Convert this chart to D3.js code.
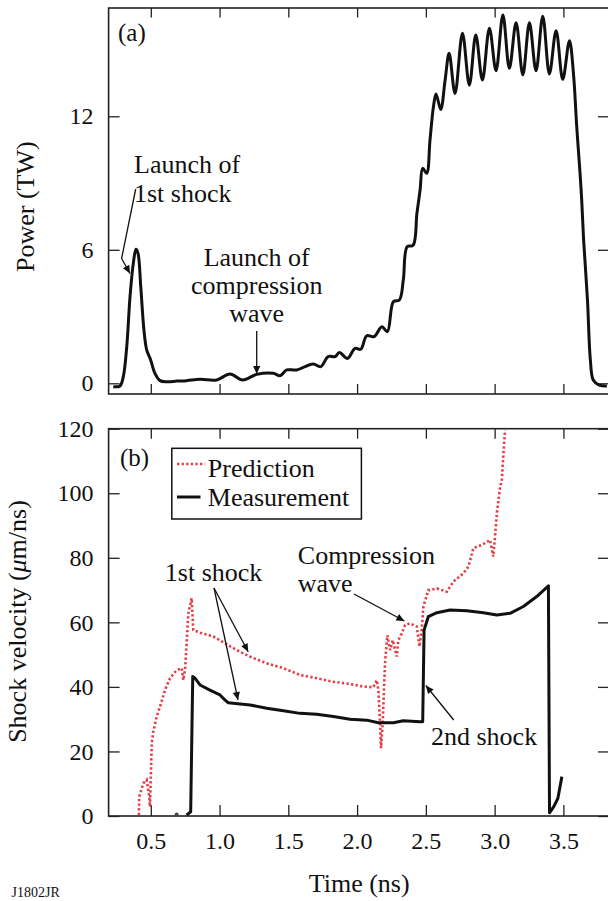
<!DOCTYPE html>
<html>
<head>
<meta charset="utf-8">
<script src="https://cdn.jsdelivr.net/npm/d3@7"></script>
<style>
  html, body { margin: 0; padding: 0; background: #fff; }
  svg { display: block; }
  text { font-family: "Liberation Serif", "Times New Roman", serif; fill: #111; }
</style>
</head>
<body>
<svg id="chart" width="608" height="901"></svg>
<script>
// ---------------- DATA ----------------
const xTicks = [0.5, 1.0, 1.5, 2.0, 2.5, 3.0, 3.5];
const powerTicks = [0, 6, 12];
const velocityTicks = [0, 20, 40, 60, 80, 100, 120];

// Panel (a): laser power (TW) vs time (ns)
const powerTime = [0.227,0.276,0.300,0.325,0.349,0.373,0.392,0.407,0.427,0.450,0.470,0.499,0.530,0.567,0.616,0.690,0.760,0.858,0.979,1.076,1.168,1.270,1.390,1.440,1.488,1.560,1.680,1.735,1.790,1.840,1.871,1.930,1.985,2.027,2.070,2.123,2.180,2.220,2.264,2.307,2.336,2.364,2.407,2.435,2.458,2.477,2.506,2.530,2.555,2.574,2.608,2.640,2.669,2.712,2.766,2.816,2.863,2.911,2.962,3.010,3.060,3.107,3.156,3.205,3.253,3.301,3.350,3.398,3.447,3.495,3.544,3.573,3.597,3.621,3.633,3.647,3.675,3.696,3.717,3.760,3.816];
const powerValue = [-0.15,-0.12,0.30,1.64,3.90,5.40,6.02,5.84,4.34,2.40,1.50,1.05,0.45,0.12,0.07,0.10,0.12,0.18,0.15,0.42,0.15,0.40,0.45,0.34,0.60,0.60,0.87,0.75,1.20,1.20,1.38,1.12,1.57,1.53,2.14,2.10,2.54,2.32,3.67,3.74,4.64,6.14,6.20,7.64,8.69,9.66,9.44,10.93,12.43,13.00,12.31,13.63,14.83,13.03,15.73,13.40,15.65,13.63,15.96,14.05,16.55,14.16,16.20,13.86,16.20,14.05,16.50,13.90,15.85,13.66,15.40,13.93,11.53,9.44,8.24,6.44,3.74,1.05,0.15,-0.08,-0.12];

// Panel (b): shock velocity (um/ns)
const predictionTime = [0.413,0.416,0.445,0.470,0.489,0.494,0.507,0.518,0.543,0.567,0.603,0.640,0.688,0.725,0.736,0.749,0.773,0.797,0.809,0.858,0.955,1.040,1.125,1.220,1.343,1.464,1.585,1.706,1.827,1.949,2.045,2.118,2.143,2.155,2.167,2.174,2.186,2.203,2.220,2.240,2.259,2.288,2.300,2.325,2.349,2.385,2.434,2.453,2.470,2.482,2.518,2.530,2.580,2.652,2.700,2.773,2.810,2.845,2.907,2.967,2.990,3.003,3.016,3.040,3.052,3.064,3.076];
const predictionValue = [0.3,6.0,10.1,11.2,6.0,2.9,22.5,26.1,30.8,33.9,39.0,42.7,45.2,45.8,42.1,45.2,62.8,67.5,57.6,56.8,55.6,53.5,51.4,49.4,47.3,45.8,43.7,42.7,41.6,40.9,40.1,39.9,42.1,39.0,28.7,21.0,28.7,47.3,56.0,51.4,54.5,49.4,54.5,56.6,59.2,59.7,58.7,52.5,57.6,64.9,70.0,70.0,70.5,69.5,72.6,75.2,77.3,83.0,84.0,85.5,80.4,86.6,93.8,102.0,104.0,112.4,119.6];

const measurementTime = [0.761,0.790,0.805,0.821,0.858,0.930,1.003,1.040,1.064,1.149,1.222,1.343,1.464,1.585,1.706,1.827,1.949,2.070,2.155,2.264,2.336,2.458,2.477,2.487,2.518,2.580,2.676,2.797,2.918,3.016,3.112,3.209,3.306,3.391,3.399,3.430,3.460,3.489];
const measurementValue = [0.3,1.3,43.2,42.7,40.6,39.0,37.5,35.9,35.1,34.7,34.4,33.4,32.6,31.8,31.5,30.8,30.0,29.7,28.9,28.9,29.5,29.2,29.2,57.6,61.8,63.0,63.8,63.6,63.0,62.3,62.8,64.9,68.0,71.3,1.0,2.9,5.5,12.2];
const measurementDotTime = [0.688];
const measurementDotValue = [0.5];

const seriesNames = ["Prediction", "Measurement"];

// ---------------- LAYOUT ----------------
const RED = "#e53d43";
const svg = d3.select("#chart");
const frameL = 108.6, frameR = 609;
const topA = 8, botA = 394;
const topB = 428.7, botB = 816;

const x = d3.scaleLinear().domain([0.5, 3.5]).range([150.8, 563.4]);
const yA = d3.scaleLinear().domain([0, 12]).range([383.3, 116.3]);
const yB = d3.scaleLinear().domain([0, 120]).range([botB, topB]);

const defs = svg.append("defs");
defs.append("clipPath").attr("id", "clipA").append("rect")
  .attr("x", frameL).attr("y", topA).attr("width", frameR - frameL).attr("height", botA - topA);
defs.append("clipPath").attr("id", "clipB").append("rect")
  .attr("x", frameL).attr("y", topB).attr("width", frameR - frameL).attr("height", botB - topB);
defs.append("marker").attr("id", "arrow")
  .attr("viewBox", "0 0 10 10").attr("refX", 10).attr("refY", 5)
  .attr("markerWidth", 10).attr("markerHeight", 8).attr("markerUnits", "userSpaceOnUse")
  .attr("orient", "auto")
  .append("path").attr("d", "M0,0.5 L10,5 L0,9.5 Z").attr("fill", "#111");

function styleAxis(g, fontSize) {
  g.select(".domain").remove();
  g.selectAll(".tick line").attr("stroke", "#222").attr("stroke-width", 1.3);
  g.selectAll(".tick text").attr("font-size", fontSize)
    .attr("font-family", '"Liberation Serif", "Times New Roman", serif').attr("fill", "#111");
}

// ---------- Panel (a) ----------
svg.append("g").attr("transform", `translate(0,${topA})`)
  .call(d3.axisTop(x).tickValues(xTicks).tickSize(-9.5).tickFormat(""))
  .call(g => styleAxis(g, 0));
svg.append("g").attr("transform", `translate(0,${botA})`)
  .call(d3.axisBottom(x).tickValues(xTicks).tickSize(-10).tickFormat(""))
  .call(g => styleAxis(g, 0));
svg.append("g").attr("transform", `translate(${frameL},0)`)
  .call(d3.axisLeft(yA).tickValues(powerTicks).tickSize(-11).tickPadding(15).tickFormat(d3.format("d")))
  .call(g => styleAxis(g, 24));
svg.append("g").attr("transform", `translate(${frameR},0)`)
  .call(d3.axisRight(yA).tickValues(powerTicks).tickSize(-11).tickFormat(""))
  .call(g => styleAxis(g, 0));
svg.append("rect").attr("x", frameL).attr("y", topA).attr("width", frameR - frameL).attr("height", botA - topA)
  .attr("fill", "none").attr("stroke", "#222").attr("stroke-width", 1.6);

const powerData = powerTime.map((t, i) => [t, powerValue[i]]);
svg.append("path").datum(powerData)
  .attr("clip-path", "url(#clipA)")
  .attr("fill", "none").attr("stroke", "#111").attr("stroke-width", 3)
  .attr("stroke-linejoin", "round")
  .attr("d", d3.line().x(d => x(d[0])).y(d => yA(d[1])).curve(d3.curveCatmullRom.alpha(0.5)));

svg.append("text").attr("x", 118).attr("y", 41).attr("font-size", 25).text("(a)");
svg.append("text").attr("x", 134).attr("y", 172.7).attr("font-size", 26).text("Launch of");
svg.append("text").attr("x", 134).attr("y", 202.3).attr("font-size", 26).text("1st shock");
svg.append("path").attr("d", "M135.7,189 L121.6,258.5 L130,273.5")
  .attr("fill", "none").attr("stroke", "#111").attr("stroke-width", 1.3).attr("marker-end", "url(#arrow)");

svg.append("text").attr("x", 256.7).attr("y", 265.7).attr("font-size", 26).attr("text-anchor", "middle").text("Launch of");
svg.append("text").attr("x", 256.7).attr("y", 294).attr("font-size", 26).attr("text-anchor", "middle").text("compression");
svg.append("text").attr("x", 256.7).attr("y", 321.7).attr("font-size", 26).attr("text-anchor", "middle").text("wave");
svg.append("path").attr("d", "M256.7,331 L256.7,374")
  .attr("fill", "none").attr("stroke", "#111").attr("stroke-width", 1.3).attr("marker-end", "url(#arrow)");

svg.append("text").attr("transform", "translate(34,206.7) rotate(-90)")
  .attr("font-size", 26).attr("text-anchor", "middle").text("Power (TW)");

// ---------- Panel (b) ----------
svg.append("g").attr("transform", `translate(0,${topB})`)
  .call(d3.axisTop(x).tickValues(xTicks).tickSize(-10).tickFormat(""))
  .call(g => styleAxis(g, 0));
svg.append("g").attr("transform", `translate(0,${botB})`)
  .call(d3.axisBottom(x).tickValues(xTicks).tickSize(-11).tickPadding(16).tickFormat(d3.format(".1f")))
  .call(g => styleAxis(g, 24));
svg.append("g").attr("transform", `translate(${frameL},0)`)
  .call(d3.axisLeft(yB).tickValues(velocityTicks).tickSize(-11).tickPadding(15).tickFormat(d3.format("d")))
  .call(g => styleAxis(g, 24));
svg.append("g").attr("transform", `translate(${frameR},0)`)
  .call(d3.axisRight(yB).tickValues(velocityTicks).tickSize(-11).tickFormat(""))
  .call(g => styleAxis(g, 0));
svg.append("rect").attr("x", frameL).attr("y", topB).attr("width", frameR - frameL).attr("height", botB - topB)
  .attr("fill", "none").attr("stroke", "#222").attr("stroke-width", 1.6);

const lineB = d3.line().x(d => x(d[0])).y(d => yB(d[1]));
const predData = predictionTime.map((t, i) => [t, predictionValue[i]]);
const measData = measurementTime.map((t, i) => [t, measurementValue[i]]);

svg.append("path").datum(predData)
  .attr("clip-path", "url(#clipB)")
  .attr("fill", "none").attr("stroke", RED).attr("stroke-width", 2.6)
  .attr("stroke-dasharray", "2.3,2.3")
  .attr("d", lineB);
svg.append("path").datum(measData)
  .attr("clip-path", "url(#clipB)")
  .attr("fill", "none").attr("stroke", "#111").attr("stroke-width", 3)
  .attr("stroke-linejoin", "round")
  .attr("d", lineB);
svg.selectAll("circle.mdot").data(measurementDotTime.map((t, i) => [t, measurementDotValue[i]]))
  .enter().append("circle").attr("class", "mdot")
  .attr("cx", d => x(d[0])).attr("cy", d => yB(d[1])).attr("r", 2).attr("fill", "#444");

svg.append("text").attr("x", 120).attr("y", 466).attr("font-size", 25).text("(b)");

// legend
const leg = svg.append("g");
leg.append("rect").attr("x", 171.8).attr("y", 448.3).attr("width", 189.6).attr("height", 70.7)
  .attr("fill", "#fff").attr("stroke", "#111").attr("stroke-width", 1.5);
leg.append("line").attr("x1", 177).attr("x2", 205).attr("y1", 464).attr("y2", 464)
  .attr("stroke", RED).attr("stroke-width", 2.6).attr("stroke-dasharray", "2.3,2.3");
leg.append("line").attr("x1", 177).attr("x2", 200.5).attr("y1", 497).attr("y2", 497)
  .attr("stroke", "#111").attr("stroke-width", 3);
leg.append("text").attr("x", 207.8).attr("y", 476.7).attr("font-size", 26).text(seriesNames[0]);
leg.append("text").attr("x", 207.8).attr("y", 506).attr("font-size", 26).text(seriesNames[1]);

// annotations
svg.append("text").attr("x", 164.8).attr("y", 581).attr("font-size", 26).text("1st shock");
svg.append("path").attr("d", "M214,588 L248.2,651.7")
  .attr("fill", "none").attr("stroke", "#111").attr("stroke-width", 1.3).attr("marker-end", "url(#arrow)");
svg.append("path").attr("d", "M214,588 L238,700")
  .attr("fill", "none").attr("stroke", "#111").attr("stroke-width", 1.3).attr("marker-end", "url(#arrow)");

svg.append("text").attr("x", 297.8).attr("y", 564).attr("font-size", 26).text("Compression");
svg.append("text").attr("x", 297.8).attr("y", 592).attr("font-size", 26).text("wave");
svg.append("path").attr("d", "M354,594 L404.4,621")
  .attr("fill", "none").attr("stroke", "#111").attr("stroke-width", 1.3).attr("marker-end", "url(#arrow)");

svg.append("text").attr("x", 431).attr("y", 745).attr("font-size", 26).text("2nd shock");
svg.append("path").attr("d", "M453.7,720 L425.8,685.5")
  .attr("fill", "none").attr("stroke", "#111").attr("stroke-width", 1.3).attr("marker-end", "url(#arrow)");

// axis titles
const yt = svg.append("text").attr("transform", "translate(26,621.5) rotate(-90)")
  .attr("font-size", 26).attr("text-anchor", "middle");
yt.append("tspan").text("Shock velocity (");
yt.append("tspan").attr("font-style", "italic").text("μ");
yt.append("tspan").text("m/ns)");

svg.append("text").attr("x", 359.2).attr("y", 892).attr("font-size", 26).attr("text-anchor", "middle").text("Time (ns)");
svg.append("text").attr("x", 11.6).attr("y", 897).attr("font-size", 14).text("J1802JR");
</script>
</body>
</html>
